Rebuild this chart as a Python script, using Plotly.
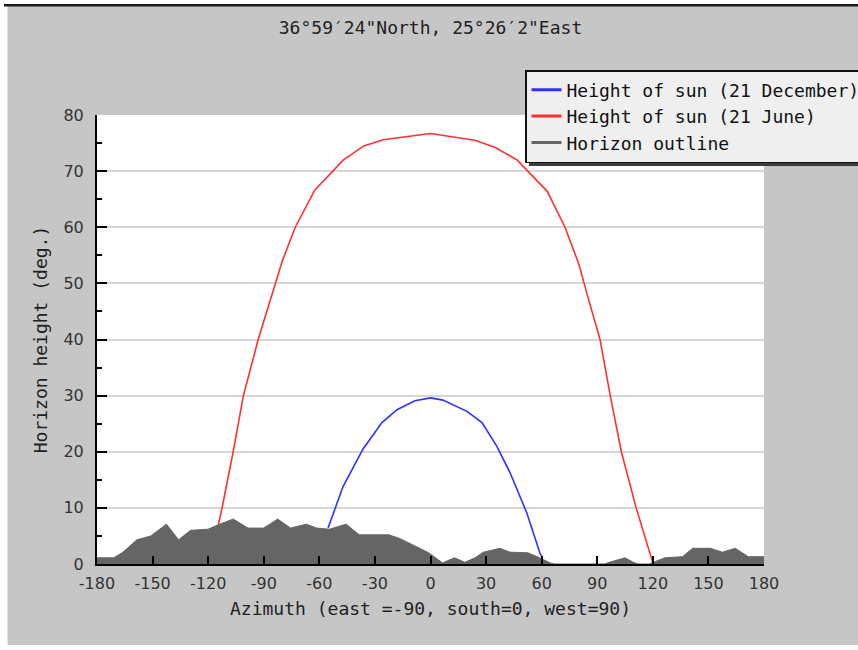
import plotly.graph_objects as go

# ---- data ----
horizon_az = [-180, -171, -166, -158.5, -151, -142.5, -136, -129.5, -120, -114.5, -106.5, -98.5,
              -90, -82.5, -75.5, -67, -61.5, -54.5, -45.5, -38.5, -22.5, -17, -9.5, -1, 6.5,
              13, 18.5, 24, 28.5, 37.5, 43, 52.5, 59, 64.5, 67, 94, 96.5, 100.5, 105, 109.5,
              112, 118, 119.5, 126.5, 136, 141.5, 151, 157.5, 164.5, 171.5, 180]
horizon_h = [1.1, 1.1, 2.1, 4.3, 5.0, 7.1, 4.3, 6.0, 6.2, 7.0, 8.0, 6.4,
             6.4, 8.0, 6.4, 7.1, 6.4, 6.2, 7.1, 5.2, 5.2, 4.6, 3.4, 2.0, 0.2,
             1.1, 0.3, 1.1, 2.1, 2.8, 2.1, 2.0, 1.1, 0.2, 0.0, 0.0, 0.3, 0.7, 1.1, 0.3,
             0.0, 0.0, 0.2, 1.1, 1.3, 2.8, 2.8, 2.1, 2.8, 1.3, 1.3]

june_az = [-114.5, -112.5, -106.5, -101, -93, -86.5, -80, -73, -62.5, -47, -36, -25.5, 0,
           24, 35, 46.7, 63, 72.6, 80, 85, 91.5, 97, 103, 111, 120]
june_h = [7.0, 10, 20, 30, 40, 47, 54, 60, 66.6, 72, 74.5, 75.6, 76.7,
          75.5, 74.2, 72, 66.4, 60, 53.5, 47.5, 40, 30, 20, 10, 0.2]

dec_az = [-55.3, -47.2, -36.4, -26.2, -18.1, -8.4, 0, 6.7, 19.7, 27.8, 35.9, 42.9, 52, 59, 60.5]
dec_h = [6.4, 13.8, 20.5, 25.2, 27.5, 29.1, 29.6, 29.2, 27.2, 25.2, 20.9, 16.3, 9.1, 2.0, 1.0]

x_ticks = [-180, -150, -120, -90, -60, -30, 0, 30, 60, 90, 120, 150, 180]
x_tick_labels = ["-180", "-150", "-120", "-90", "-60", "-30", "0", "30", "60", "90", "120", "150", "180"]
y_ticks = [0, 10, 20, 30, 40, 50, 60, 70, 80]
y_tick_labels = ["0", "10", "20", "30", "40", "50", "60", "70", "80"]

title_text = "36°59′24\"North, 25°26′2\"East"
x_title = "Azimuth (east =-90, south=0, west=90)"
y_title = "Horizon height (deg.)"
names = ["Height of sun (21 December)", "Height of sun (21 June)", "Horizon outline"]
colors = ["#3030ff", "#ff3030", "#656565"]

MONO = "DejaVu Sans Mono"
GRAY_BG = "#c6c6c6"

fig = go.Figure()
fig.add_trace(go.Scatter(x=horizon_az, y=horizon_h, mode="lines", fill="tozeroy",
                         fillcolor=colors[2], line=dict(color=colors[2], width=1),
                         name=names[2], showlegend=False, hoverinfo="skip"))
fig.add_trace(go.Scatter(x=dec_az, y=dec_h, mode="lines", name=names[0], showlegend=False,
                         line=dict(color=colors[0], width=1.6)))
fig.add_trace(go.Scatter(x=june_az, y=june_h, mode="lines", name=names[1], showlegend=False,
                         line=dict(color=colors[1], width=1.6)))
# legend entries (thicker swatches like the reference)
for nm, col in zip(names, colors):
    fig.add_trace(go.Scatter(x=[None], y=[None], mode="lines", name=nm,
                             line=dict(color=col, width=3)))

W, H = 858, 650
L, R, T, B = 97, 94, 115, 86
pw, ph = W - L - R, H - T - B


def px(xp):
    return (xp - L) / pw


def py(yp):
    return (H - B - yp) / ph


shapes = [
    # white outer strips (left, top, bottom) and dark top rule
    dict(type="rect", xref="paper", yref="paper", x0=px(-2), x1=px(7.5), y0=py(652), y1=py(-2),
         fillcolor="white", line_width=0, layer="below"),
    dict(type="rect", xref="paper", yref="paper", x0=px(-2), x1=px(860), y0=py(4), y1=py(-2),
         fillcolor="white", line_width=0, layer="below"),
    dict(type="rect", xref="paper", yref="paper", x0=px(-2), x1=px(860), y0=py(652), y1=py(645),
         fillcolor="white", line_width=0, layer="below"),
    dict(type="rect", xref="paper", yref="paper", x0=px(4), x1=px(860), y0=py(6.5), y1=py(4),
         fillcolor="#1a1a1a", line_width=0, layer="below"),
    # legend shadow
    dict(type="rect", xref="paper", yref="paper", x0=px(529), x1=px(860), y0=py(166), y1=py(74),
         fillcolor="#3c3c3c", line_width=0, layer="above"),
]

fig.update_layout(
    width=W, height=H,
    margin=dict(l=L, r=R, t=T, b=B, pad=0, autoexpand=False),
    paper_bgcolor=GRAY_BG, plot_bgcolor="white",
    font=dict(family=MONO, size=18, color="#222222"),
    title=dict(text=title_text, x=0.5, xref="paper", xanchor="center",
               y=1 - 28 / H, yanchor="middle", font=dict(family=MONO, size=18, color="#222222")),
    showlegend=True,
    legend=dict(x=px(525), y=py(70), xanchor="left", yanchor="top",
                bgcolor="#efefef", bordercolor="#111111", borderwidth=1.5,
                font=dict(family=MONO, size=18, color="#111111"),
                itemwidth=30, tracegroupgap=0),
    shapes=shapes,
    xaxis=dict(range=[-180, 180], tickvals=x_ticks, ticktext=x_tick_labels,
               ticks="inside", ticklen=8, tickwidth=2,
               tickcolor="black", showgrid=False, zeroline=False, showline=True,
               linecolor="black", linewidth=2, mirror=False,
               tickfont=dict(family="DejaVu Sans", size=16, color="#333333"),
               ticklabelstandoff=4,
               title=dict(text=x_title, standoff=10, font=dict(family=MONO, size=18, color="#222222"))),
    yaxis=dict(range=[0, 80], tickvals=y_ticks, ticktext=y_tick_labels,
               ticks="inside", ticklen=10, tickwidth=2,
               tickcolor="black", showgrid=True, gridcolor="#d6d6d6", gridwidth=2,
               zeroline=False, showline=True, linecolor="black", linewidth=2,
               tickfont=dict(family="DejaVu Sans", size=16, color="#333333"),
               ticklabelstandoff=8,
               minor=dict(dtick=5, ticks="inside", ticklen=5, tickwidth=1.5, tickcolor="black",
                          showgrid=False),
               title=dict(text=y_title, standoff=11, font=dict(family=MONO, size=18, color="#222222"))),
)

fig.write_html(
    "out.html",
    config={"displayModeBar": False},
    post_script="document.body.style.margin='0px';"
                "document.documentElement.style.overflow='hidden';",
)
